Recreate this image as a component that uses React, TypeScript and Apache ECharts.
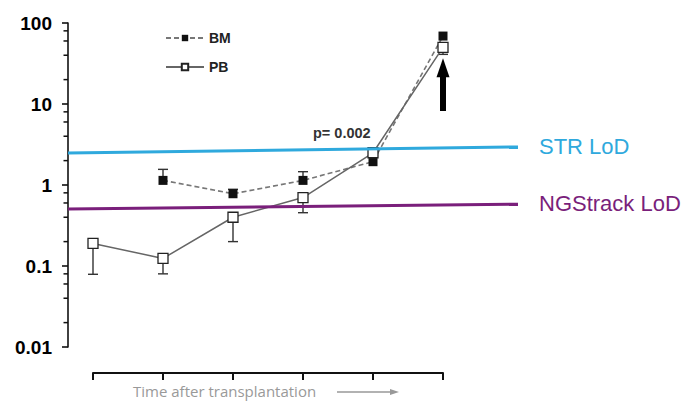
import React, { useEffect, useRef } from "react";
import * as echarts from "echarts";

const TIME_POINTS = [1, 2, 3, 4, 5, 6];
const PB_VALUES = [0.19, 0.124, 0.4, 0.7, 2.5, 50];
const PB_LOWER: (number | null)[] = [0.079, 0.08, 0.2, 0.455, null, 41];
const BM_VALUES: (number | null)[] = [null, 1.14, 0.78, 1.14, 1.94, 69];
const BM_UPPER: (number | null)[] = [null, 1.56, 0.885, 1.46, null, null];
const STR_LOD = [2.48, 2.95];
const NGS_LOD = [0.506, 0.58];
const ARROW_RANGE = [8.2, 36.7];
const ARROW_TIME = 6;
const Y_TICK_LABELS = ["0.01", "0.1", "1", "10", "100"];
const MINOR_TICKS = [
  0.02, 0.04, 0.06, 0.08, 0.2, 0.4, 0.6, 0.8, 2, 4, 6, 8, 20, 40, 60, 80,
];
const P_TEXT = "p= 0.002";
const X_TITLE = "Time after transplantation";

const X_MIN = 9 / 14;
const X_MAX = 99 / 14;

const FONT = "Arial, 'Liberation Sans', Helvetica, sans-serif";

export default function App() {
  const ref = useRef<HTMLDivElement>(null);
  useEffect(() => {
    if (!ref.current) return;
    const chart = echarts.init(ref.current, undefined, { renderer: "svg" });

    const pbData = TIME_POINTS.map((t, i) => [t, PB_VALUES[i]]);
    const bmData = TIME_POINTS.map((t, i) => [t, BM_VALUES[i]]).filter(
      (d) => d[1] != null
    );
    // kind 0: error bar, kind 1: minor axis tick
    const errData: number[][] = [];
    TIME_POINTS.forEach((t, i) => {
      if (PB_LOWER[i] != null) errData.push([t, PB_VALUES[i], PB_LOWER[i] as number, 0]);
      if (BM_UPPER[i] != null && BM_VALUES[i] != null)
        errData.push([t, BM_VALUES[i] as number, BM_UPPER[i] as number, 0]);
    });
    MINOR_TICKS.forEach((v) => errData.push([1, v, v, 1]));

    const option: any = {
      animation: false,
      backgroundColor: "#fff",
      legend: {
        left: 160,
        top: 26,
        orient: "vertical",
        itemWidth: 38,
        itemHeight: 8,
        itemGap: 15,
        data: ["BM", "PB"],
        textStyle: { fontFamily: FONT, fontWeight: "bold", fontSize: 14, color: "#222" },
      },
      grid: [
        { left: 68, top: 23, width: 450, height: 324, outerBoundsMode: "none" },
        { left: 93, top: 372, width: 350, height: 1, outerBoundsMode: "none" },
      ],
      xAxis: [
        { type: "value", gridIndex: 0, min: X_MIN, max: X_MAX, show: false },
        {
          type: "value",
          gridIndex: 1,
          min: 1,
          max: 6,
          interval: 1,
          position: "bottom",
          axisLine: { show: true, lineStyle: { color: "#111", width: 2 } },
          axisTick: { show: true, length: 7, lineStyle: { color: "#111", width: 2 } },
          axisLabel: { show: false },
          splitLine: { show: false },
        },
      ],
      yAxis: [
        {
          type: "log",
          logBase: 10,
          gridIndex: 0,
          min: 0.01,
          max: 100,
          axisLine: { show: true, lineStyle: { color: "#111", width: 1.6 } },
          axisTick: { show: true, length: 6, lineStyle: { color: "#111", width: 1.6 } },
          splitLine: { show: false },
          axisLabel: {
            margin: 16,
            fontFamily: FONT,
            fontWeight: "bold",
            fontSize: 19,
            color: "#000",
            formatter: (_v: number, i: number) => Y_TICK_LABELS[i],
          },
        },
        { type: "value", gridIndex: 1, show: false },
      ],
      series: [
        {
          name: "errorBars",
          type: "custom",
          xAxisIndex: 0,
          yAxisIndex: 0,
          silent: true,
          clip: false,
          z: 2,
          data: errData,
          renderItem: (params: any, api: any) => {
            const x = api.value(0);
            const kind = api.value(3);
            const p1 = api.coord([x, api.value(1)]);
            if (kind === 1) {
              const ax = params.coordSys.x;
              return {
                type: "group",
                children: [
                  {
                    type: "line",
                    shape: { x1: ax - 4.5, y1: p1[1], x2: ax, y2: p1[1] },
                    style: { stroke: "#111", lineWidth: 1.5 },
                  },
                ],
              };
            }
            const p2 = api.coord([x, api.value(2)]);
            const st = { stroke: "#333", lineWidth: 1.4 };
            return {
              type: "group",
              children: [
                { type: "line", shape: { x1: p1[0], y1: p1[1], x2: p2[0], y2: p2[1] }, style: st },
                { type: "line", shape: { x1: p2[0] - 5, y1: p2[1], x2: p2[0] + 5, y2: p2[1] }, style: st },
              ],
            };
          },
        },
        {
          name: "BM",
          type: "line",
          xAxisIndex: 0,
          yAxisIndex: 0,
          z: 3,
          data: bmData,
          symbol: "rect",
          symbolSize: 9,
          itemStyle: { color: "#111" },
          lineStyle: { color: "#777", width: 1.6, type: [5, 3] },
        },
        {
          name: "PB",
          type: "line",
          xAxisIndex: 0,
          yAxisIndex: 0,
          z: 4,
          data: pbData,
          symbol: "rect",
          symbolSize: 10,
          itemStyle: { color: "#fff", borderColor: "#222", borderWidth: 1.3 },
          lineStyle: { color: "#666", width: 1.5 },
          markLine: {
            silent: true,
            symbol: ["none", "none"],
            data: [
              [
                {
                  coord: [X_MIN, STR_LOD[0]],
                  lineStyle: { color: "#2fa9dd", width: 3, type: "solid" },
                  label: {
                    show: true,
                    position: "end",
                    formatter: "STR LoD",
                    color: "#2fa9dd",
                    fontSize: 22,
                    fontFamily: FONT,
                    distance: 21,
                  },
                },
                { coord: [X_MAX, STR_LOD[1]] },
              ],
              [
                {
                  coord: [X_MIN, NGS_LOD[0]],
                  lineStyle: { color: "#7a1f7b", width: 3, type: "solid" },
                  label: {
                    show: true,
                    position: "end",
                    formatter: "NGStrack LoD",
                    color: "#7a1f7b",
                    fontSize: 22,
                    fontFamily: FONT,
                    distance: 21,
                  },
                },
                { coord: [X_MAX, NGS_LOD[1]] },
              ],
            ],
          },
        },
        {
          name: "arrow",
          type: "custom",
          xAxisIndex: 0,
          yAxisIndex: 0,
          silent: true,
          z: 5,
          data: [[ARROW_TIME, ARROW_RANGE[0], ARROW_RANGE[1]]],
          renderItem: (params: any, api: any) => {
            const x = api.value(0);
            const b = api.coord([x, api.value(1)]);
            const t = api.coord([x, api.value(2)]);
            const headH = 19;
            return {
              type: "group",
              children: [
                {
                  type: "rect",
                  shape: { x: b[0] - 3, y: t[1] + headH - 1, width: 6, height: b[1] - t[1] - headH + 1 },
                  style: { fill: "#000" },
                },
                {
                  type: "polygon",
                  shape: {
                    points: [
                      [t[0], t[1]],
                      [t[0] - 6.5, t[1] + headH],
                      [t[0] + 6.5, t[1] + headH],
                    ],
                  },
                  style: { fill: "#000" },
                },
              ],
            };
          },
        },
      ],
      graphic: [
        {
          type: "text",
          x: 313,
          y: 133,
          style: {
            text: P_TEXT,
            fontFamily: FONT,
            fontSize: 14.5,
            fontWeight: "bold",
            fill: "#333",
            verticalAlign: "middle",
          },
        },
        {
          type: "text",
          x: 133,
          y: 391,
          style: {
            text: X_TITLE,
            fontFamily: "'Open Sans', sans-serif",
            fontSize: 15,
            fill: "#999",
            verticalAlign: "middle",
          },
        },
        {
          type: "line",
          shape: { x1: 337, y1: 392, x2: 392, y2: 392 },
          style: { stroke: "#999", lineWidth: 1.5 },
        },
        {
          type: "polygon",
          shape: { points: [[399, 392], [390, 389], [390, 395]] },
          style: { fill: "#999" },
        },
      ],
    };
    chart.setOption(option);
    return () => chart.dispose();
  }, []);
  return (
    <div
      ref={ref}
      style={{ position: "absolute", left: 0, top: 0, width: 694, height: 402 }}
    />
  );
}
